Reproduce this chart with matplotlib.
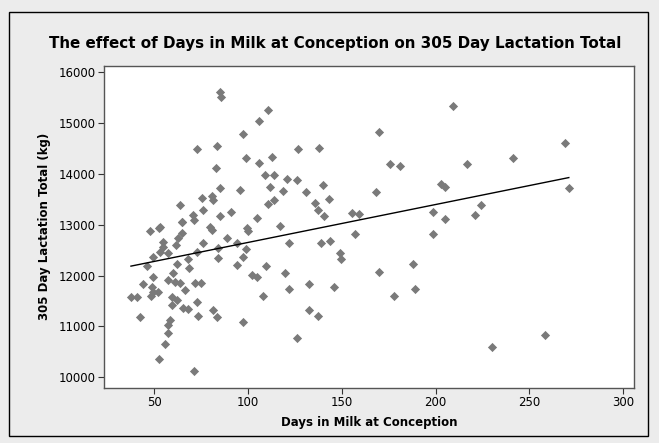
import numpy as np
import matplotlib.pyplot as plt
from matplotlib.patches import Rectangle

# Days in milk at conception (x) and 305 day lactation total in kg (y)
days = [
    209.3, 269.1, 216.9, 241.2, 203.0, 205.0, 271.0, 224.2, 221.2, 204.8, 230.2, 258.1,
    169.6, 126.8, 137.8, 175.6, 181.3, 126.2, 131.0, 139.9, 143.1, 135.7, 137.1, 140.6,
    168.0, 155.5, 159.1, 198.6, 122.0, 138.9, 143.8, 156.9, 198.6, 149.1, 149.8, 169.6,
    187.8, 132.8, 146.1, 178.1, 189.0, 132.3, 137.1, 126.1,
    85.1, 85.5, 110.8, 106.0, 97.2, 72.7, 83.7, 98.9, 106.0, 112.8, 83.0, 109.0,
    114.0, 120.6, 111.7, 118.8, 85.3, 95.7, 75.7, 80.7, 81.5, 110.8, 114.0, 63.8,
    76.2, 70.9, 85.1, 91.0, 65.0, 71.4, 105.0, 117.0, 53.2, 79.8, 99.3,
    52.8, 65.0, 80.7, 64.7, 63.0, 61.7, 54.9, 54.9, 53.2, 57.6, 49.6, 76.2,
    88.7, 99.8, 84.2, 94.0, 98.9, 72.7, 83.9, 67.9, 62.0, 68.8, 94.3, 97.2,
    109.6, 60.2, 102.0, 104.6, 119.7, 49.6, 57.6, 61.1, 63.8, 71.8, 74.8, 48.7,
    52.3, 66.5, 108.1, 122.0, 59.4, 62.0, 59.4, 73.0, 65.6, 68.2, 73.5, 81.5,
    83.3, 97.2, 58.5, 57.6, 57.6, 55.8, 52.8, 71.4,
    47.8, 46.4, 44.0, 49.6, 48.2, 37.7, 40.8, 42.5,
]
lactation = [
    15332, 14600, 14194, 14311, 13800, 13742, 13730, 13396, 13186, 13121, 10595, 10824,
    14822, 14488, 14508, 14194, 14148, 13887, 13638, 13775, 13506, 13435, 13285, 13173,
    13638, 13232, 13212, 13251, 12631, 12637, 12676, 12813, 12813, 12434, 12316, 12061,
    12230, 11831, 11779, 11602, 11739, 11315, 11197, 10771,
    15607, 15509, 15248, 15038, 14777, 14488, 14555, 14305, 14221, 14325, 14109, 13972,
    13972, 13907, 13742, 13658, 13730, 13683, 13534, 13560, 13481, 13402, 13481, 13396,
    13285, 13186, 13180, 13251, 13049, 13088, 13128, 12976, 12957, 12957, 12925,
    12925, 13055, 12892, 12827, 12729, 12597, 12662, 12564, 12466, 12434, 12368, 12643,
    12729, 12872, 12551, 12631, 12519, 12453, 12336, 12316, 12218, 12152, 12205, 12368,
    12191, 12041, 12008, 11963, 12041, 11975, 11910, 11877, 11845, 11845, 11845, 11779,
    11680, 11713, 11596, 11733, 11582, 11517, 11419, 11472, 11354, 11334, 11209, 11321,
    11190, 11092, 11125, 11026, 10875, 10648, 10353, 10123,
    12872, 12185, 11825, 11680, 11596, 11582, 11582, 11190,
]

# fitted regression line as drawn on the chart
fit_intercept = 11904
fit_slope = 7.46

x_ticks = [50, 100, 150, 200, 250, 300]
y_ticks = [10000, 11000, 12000, 13000, 14000, 15000, 16000]

x = np.array(days)
y = np.array(lactation)
x_fit = np.array([x.min(), x.max()])

fig = plt.figure(figsize=(6.59, 4.43), dpi=100, facecolor='#ececec')
ax = fig.add_axes([0.1583, 0.1248, 0.8031, 0.7269])
ax.set_facecolor('white')

ax.scatter(x, y, marker='D', s=22, color='#7a7a7a', linewidths=0, zorder=3)
ax.plot(x_fit, fit_intercept + fit_slope * x_fit, color='black', lw=1.0, zorder=4)

ax.set_xlim(23.5, 305.5)
ax.set_ylim(9795, 16125)
ax.set_xticks(x_ticks)
ax.set_yticks(y_ticks)
ax.tick_params(direction='out', length=4, width=0.8, color='#333333',
               labelsize=8.5, pad=2)
for s in ax.spines.values():
    s.set_color('#555555')
    s.set_linewidth(1.0)

fig.text(335 / 659, 1 - 43.5 / 443,
         'The effect of Days in Milk at Conception on 305 Day Lactation Total',
         fontsize=10.9, fontweight='bold', ha='center', va='center')
ax.set_xlabel('Days in Milk at Conception', fontsize=8.5, fontweight='bold', labelpad=5)
ax.set_ylabel('305 Day Lactation Total (kg)', fontsize=8.5, fontweight='bold', labelpad=6)

# outer frame
fig.patches.append(Rectangle((9 / 659, 7 / 443), 639 / 659, 424 / 443,
                             transform=fig.transFigure, fill=False,
                             edgecolor='black', lw=1.0))

fig.savefig('out.png', dpi=100, facecolor=fig.get_facecolor())
